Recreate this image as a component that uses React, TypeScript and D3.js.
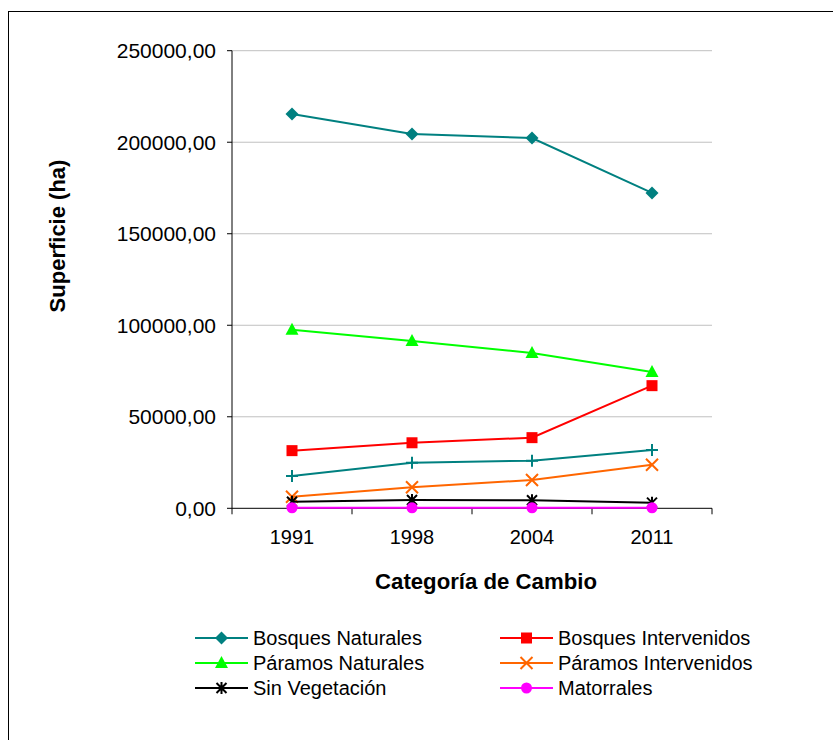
import React from "react";
import * as d3 from "d3";

const years = ["1991", "1998", "2004", "2011"];
const yTicks = [0, 50000, 100000, 150000, 200000, 250000];

const bosquesNaturales = [215400, 204500, 202300, 172300];
const bosquesIntervenidos = [31500, 35800, 38600, 67000];
const paramosNaturales = [97500, 91400, 84900, 74500];
const paramosIntervenidos = [6300, 11500, 15500, 23800];
const sinVegetacion = [3600, 4500, 4400, 3100];
const matorrales = [300, 300, 300, 300];
const serieSinLeyenda = [17600, 24900, 26000, 31900];

type Marker = "diamond" | "square" | "triangle" | "x" | "star" | "circle" | "plus";
interface Series { name: string; values: number[]; color: string; marker: Marker; legend: boolean }

const series: Series[] = [
  { name: "Serie 7", values: serieSinLeyenda, color: "#008080", marker: "plus", legend: false },
  { name: "Bosques Naturales", values: bosquesNaturales, color: "#008080", marker: "diamond", legend: true },
  { name: "Bosques Intervenidos", values: bosquesIntervenidos, color: "#ff0000", marker: "square", legend: true },
  { name: "Páramos Naturales", values: paramosNaturales, color: "#00ff00", marker: "triangle", legend: true },
  { name: "Páramos Intervenidos", values: paramosIntervenidos, color: "#ff6600", marker: "x", legend: true },
  { name: "Sin Vegetación", values: sinVegetacion, color: "#000000", marker: "star", legend: true },
  { name: "Matorrales", values: matorrales, color: "#ff00ff", marker: "circle", legend: true },
];

const legendOrder = [
  "Bosques Naturales", "Bosques Intervenidos",
  "Páramos Naturales", "Páramos Intervenidos",
  "Sin Vegetación", "Matorrales",
];

function MarkerShape({ type, x, y, color }: { type: Marker; x: number; y: number; color: string }) {
  switch (type) {
    case "diamond":
      return <path d={`M${x},${y - 6.5}L${x + 6.5},${y}L${x},${y + 6.5}L${x - 6.5},${y}Z`} fill={color} />;
    case "square":
      return <rect x={x - 5.5} y={y - 5.5} width={11} height={11} fill={color} />;
    case "triangle":
      return <path d={`M${x},${y - 7}L${x + 6.5},${y + 5}L${x - 6.5},${y + 5}Z`} fill={color} />;
    case "circle":
      return <circle cx={x} cy={y} r={5.5} fill={color} />;
    case "x":
      return <path d={`M${x - 6},${y - 6}L${x + 6},${y + 6}M${x - 6},${y + 6}L${x + 6},${y - 6}`} stroke={color} strokeWidth={2} fill="none" />;
    case "plus":
      return <path d={`M${x - 6},${y}L${x + 6},${y}M${x},${y - 6}L${x},${y + 6}`} stroke={color} strokeWidth={2} fill="none" />;
    case "star":
      return <path d={`M${x - 5},${y - 5}L${x + 5},${y + 5}M${x - 5},${y + 5}L${x + 5},${y - 5}M${x},${y - 6}L${x},${y + 6}`} stroke={color} strokeWidth={2} fill="none" />;
  }
}

export default function App() {
  const W = 833, H = 740;
  const left = 232, right = 712, top = 50.7, bottom = 508.3;
  const x = d3.scaleBand<string>().domain(years).range([left, right]);
  const y = d3.scaleLinear().domain([0, 250000]).range([bottom, top]);
  const fmt = (v: number) => d3.format(".2f")(v).replace(".", ",");
  const line = d3.line<number>().x((_, i) => x(years[i])! + x.bandwidth() / 2).y(d => y(d));
  const font = "'Liberation Sans', Arial, sans-serif";

  const legendCols = [195, 500];
  const legendRows = [638, 663, 688];

  return (
    <div style={{ position: "absolute", left: 0, top: 0 }}>
      <svg width={W} height={H} style={{ display: "block", background: "#fff" }} fontFamily={font}>
        <rect x={8.5} y={11.5} width={900} height={800} fill="#fff" stroke="#000" strokeWidth={1} />
        {yTicks.map(t => (
          <g key={t}>
            {t > 0 && <line x1={left} x2={right} y1={y(t)} y2={y(t)} stroke="#c0c0c0" strokeWidth={1} />}
            <line x1={left - 5} x2={left} y1={y(t)} y2={y(t)} stroke="#000" />
            <text x={216} y={y(t)} dy="0.35em" textAnchor="end" fontSize={21} fill="#000">{fmt(t)}</text>
          </g>
        ))}
        <line x1={left} x2={left} y1={top} y2={bottom} stroke="#000" />
        <line x1={left} x2={right} y1={bottom} y2={bottom} stroke="#000" />
        {[...years.map(yy => x(yy)!), right].map((p, i) => (
          <line key={i} x1={p} x2={p} y1={bottom} y2={bottom + 6} stroke="#000" />
        ))}
        {years.map(yy => (
          <text key={yy} x={x(yy)! + x.bandwidth() / 2} y={537} dy="0.35em" textAnchor="middle" fontSize={20}>{yy}</text>
        ))}
        <text x={486} y={581} dy="0.35em" textAnchor="middle" fontSize={22.2} fontWeight="bold">Categoría de Cambio</text>
        <text transform={`translate(57,236) rotate(-90)`} dy="0.35em" textAnchor="middle" fontSize={22} fontWeight="bold">Superficie (ha)</text>
        {series.map(s => (
          <g key={s.name}>
            <path d={line(s.values)!} fill="none" stroke={s.color} strokeWidth={2} />
            {s.values.map((v, i) => (
              <MarkerShape key={i} type={s.marker} x={x(years[i])! + x.bandwidth() / 2} y={y(v)} color={s.color} />
            ))}
          </g>
        ))}
        {legendOrder.map((name, i) => {
          const s = series.find(ss => ss.name === name)!;
          const lx = legendCols[i % 2];
          const ly = legendRows[Math.floor(i / 2)];
          return (
            <g key={name}>
              <line x1={lx} x2={lx + 53} y1={ly} y2={ly} stroke={s.color} strokeWidth={2} />
              <MarkerShape type={s.marker} x={lx + 26.5} y={ly} color={s.color} />
              <text x={lx + 58} y={ly} dy="0.35em" fontSize={20}>{name}</text>
            </g>
          );
        })}
      </svg>
    </div>
  );
}
